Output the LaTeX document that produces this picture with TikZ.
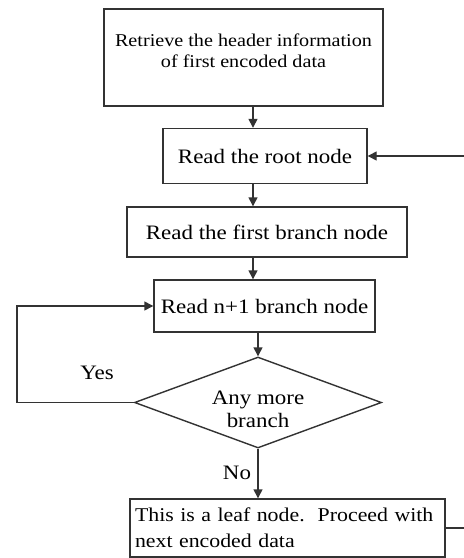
\documentclass[tikz,border=0pt]{standalone}
\usepackage{fontspec}
\setmainfont{Liberation Serif}[FakeStretch=1.12]
\usetikzlibrary{shapes.geometric,arrows.meta}
\definecolor{ink}{HTML}{333333}

% two centred lines, moved up or down without changing the box size
\newcommand{\shiftlines}[2]{\raisebox{#1}[\height][\depth]{\begin{tabular}{@{}c@{}}#2\end{tabular}}}

\begin{document}
\begin{tikzpicture}[x=1pt,y=-1pt,
  line/.style={draw=ink, line width=1.4pt},
  txt/.style={text=black, font=\fontsize{20.5}{24}\selectfont},
  box/.style={line, txt, rectangle, inner sep=0pt, align=center},
  arr/.style={line, -{Triangle[length=9pt,width=9pt]}, fill=none}]

  \useasboundingbox (0,0) rectangle (464,558);
  \fill[white] (0,0) rectangle (464,558);

  % process steps
  \node[box, minimum width=279pt, minimum height=97pt,
        font=\fontsize{18}{21}\selectfont] (hdr) at (243.5,57.5)
        {\shiftlines{5pt}{Retrieve the header information\\of first encoded data}};
  \node[box, minimum width=204pt, minimum height=55pt] (root) at (265,156)
        {Read the root node};
  \node[box, minimum width=280pt, minimum height=50pt] (first) at (267,232)
        {Read the first branch node};
  \node[box, minimum width=221pt, minimum height=52pt] (next) at (264.5,306)
        {Read n+1 branch node};

  % decision
  \node[line, txt, diamond, aspect=2.7, minimum width=247pt, minimum height=91pt,
        inner sep=0pt, font=\fontsize{20.5}{23}\selectfont] (more) at (258,402.5)
        {\shiftlines{-9pt}{Any more\\branch}};

  % leaf handling
  \node[box, minimum width=315pt, minimum height=58pt, align=left,
        text width=305pt, font=\fontsize{19.5}{26}\selectfont] (leaf) at (287.5,528)
        {\mbox{This is a leaf node.\ \ Proceed with}\\next encoded data};

  % branch labels
  \node[txt] (yes) at (97,373) {Yes};
  \node[txt] (no) at (237,473) {No};

  % guide coordinates for the connectors
  \coordinate (spine) at (253,0);
  \coordinate (lx) at (17,0);
  \coordinate (rx) at (467,0);

  % main flow
  \draw[arr] (hdr.south -| spine) -- (root.north -| spine);
  \draw[arr] (root.south -| spine) -- (first.north -| spine);
  \draw[arr] (first.south -| spine) -- (next.north -| spine);
  \draw[arr] (next.south -| more.north) -- (more.north);
  \draw[arr] (more.south) -- (more.south |- leaf.north);

  % loops back
  \draw[arr] (more.west) -- (more.west -| lx) |- (next.west);
  \draw[arr] (leaf.east) -- (leaf.east -| rx) |- (root.east);
\end{tikzpicture}
\end{document}
